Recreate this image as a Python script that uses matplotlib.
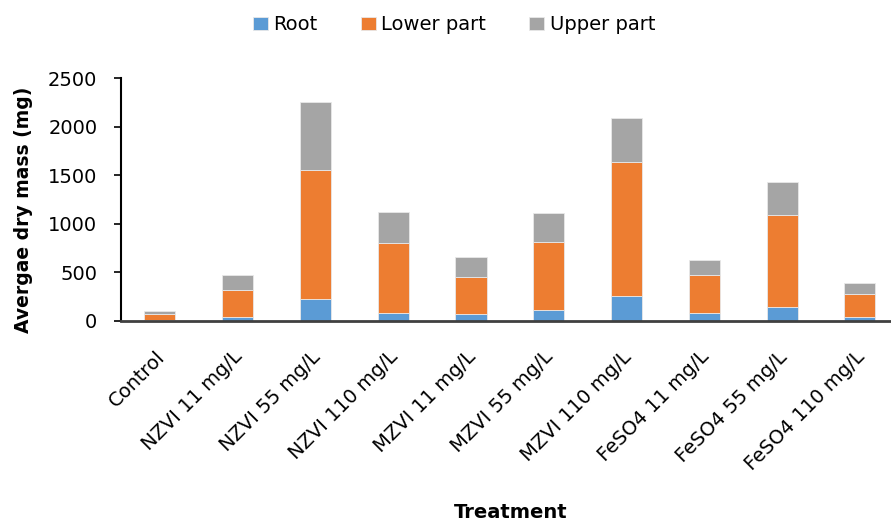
import numpy as np
import matplotlib
matplotlib.use('Agg')
import matplotlib.pyplot as plt
import matplotlib.transforms as mtransforms

plt.rcParams['font.family'] = ['DejaVu Sans']

treatments = ['Control', 'NZVI 11 mg/L', 'NZVI 55 mg/L', 'NZVI 110 mg/L',
              'MZVI 11 mg/L', 'MZVI 55 mg/L', 'MZVI 110 mg/L',
              'FeSO4 11 mg/L', 'FeSO4 55 mg/L', 'FeSO4 110 mg/L']
root = [10, 41, 227, 83, 66, 107, 258, 76, 144, 41]
lower_part = [62, 279, 1330, 715, 384, 708, 1375, 392, 943, 231]
upper_part = [28, 151, 698, 320, 210, 292, 460, 155, 343, 117]
yticks = [0, 500, 1000, 1500, 2000, 2500]

fig = plt.figure(figsize=(8.91, 5.2), dpi=100)
ax = fig.add_axes([121/891, (520-320.7)/520, (891-121)/891, 242.4/520])

x = np.arange(len(treatments))
w = 0.4
ax.bar(x, root, w, color='#5B9BD5', edgecolor='#e8e8e8', linewidth=0.6, label='Root')
ax.bar(x, lower_part, w, bottom=root, color='#ED7D31', edgecolor='#e8e8e8',
       linewidth=0.6, label='Lower part')
bottom2 = np.array(root) + np.array(lower_part)
ax.bar(x, upper_part, w, bottom=bottom2, color='#A5A5A5', edgecolor='#e8e8e8',
       linewidth=0.6, label='Upper part')

ax.set_xlim(-0.5, 9.4)
ax.set_ylim(0, 2500)
ax.set_yticks(yticks)
ax.set_yticklabels([str(v) for v in yticks], fontsize=14)
ax.set_xticks(x)
ax.set_xticklabels(treatments, rotation=45, ha='right', va='top',
                   rotation_mode='anchor', fontsize=14)
ax.tick_params(axis='x', length=0, pad=19)
ax.tick_params(axis='y', length=5, width=1.2, direction='out', pad=12)
# nudge rotated labels a bit left so their ends sit at the bar centre
shift = mtransforms.ScaledTranslation(-5/100, 0, fig.dpi_scale_trans)
for lbl in ax.get_xticklabels():
    lbl.set_transform(lbl.get_transform() + shift)

for s in ['top', 'right']:
    ax.spines[s].set_visible(False)
ax.spines['left'].set_linewidth(1.5)
ax.spines['bottom'].set_linewidth(2)
ax.spines['bottom'].set_color('#404040')

fig.text(24/891, 1-210/520, 'Avergae dry mass (mg)', fontsize=13.5, fontweight='bold',
         rotation=90, ha='center', va='center')
fig.text(511/891, 1-512/520, 'Treatment', fontsize=14, fontweight='bold',
         ha='center', va='center')

fig.legend(loc='center', bbox_to_anchor=(454/891, 1-25/520), ncol=3, frameon=False,
           fontsize=14, handlelength=0.77, handleheight=0.67, handletextpad=0.3,
           columnspacing=2.2)

fig.savefig('out.png', dpi=100)
